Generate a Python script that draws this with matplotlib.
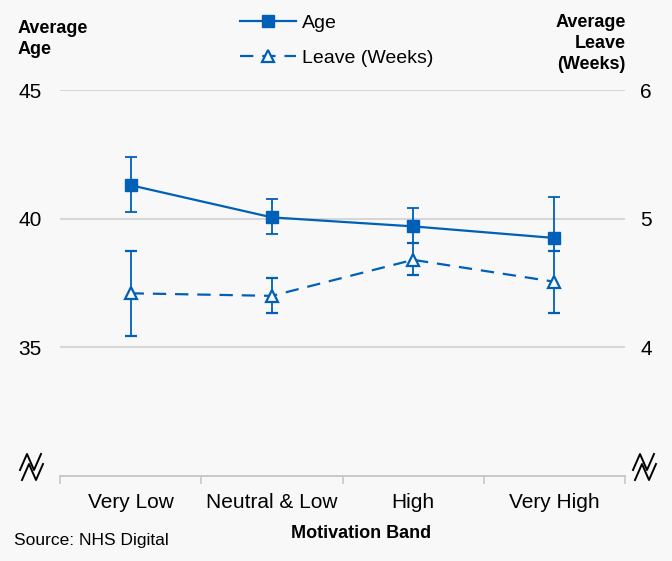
import numpy as np
import matplotlib
matplotlib.use('Agg')
from matplotlib import pyplot as plt
from matplotlib.lines import Line2D

plt.rcParams['font.family'] = ['Liberation Sans', 'DejaVu Sans']

bands = ['Very Low', 'Neutral & Low', 'High', 'Very High']
age = [41.3, 40.05, 39.7, 39.25]
age_lo = [40.25, 39.4, 39.05, 38.75]
age_hi = [42.4, 40.75, 40.4, 40.85]
leave = [4.42, 4.40, 4.68, 4.51]
leave_lo = [4.09, 4.27, 4.56, 4.27]
leave_hi = [4.75, 4.54, 4.81, 4.75]

blue = '#0060B8'
bg = '#f8f8f8'
W, H = 672, 561

fig = plt.figure(figsize=(6.72, 5.61), dpi=100, facecolor=bg)
ax = fig.add_axes([60/W, 1-476/H, 565/W, 386/H], facecolor=bg)
ax2 = ax.twinx()

x = np.arange(len(bands))
age = np.array(age); leave = np.array(leave)
ae = [age - np.array(age_lo), np.array(age_hi) - age]
le = [leave - np.array(leave_lo), np.array(leave_hi) - leave]

dash = (0, (6, 4))
ax.errorbar(x, age, yerr=ae, color=blue, lw=1.6, marker='s', ms=9,
            elinewidth=1.3, capsize=4.5, capthick=1.3, zorder=3)
ax2.errorbar(x, leave, yerr=le, color=blue, lw=1.6, ls=dash, marker='^',
             ms=9, mfc=bg, mew=1.6, elinewidth=1.3, capsize=4.5, capthick=1.3,
             zorder=3)

ax.set_xlim(-0.5, 3.5)
ax.set_ylim(30, 45)
ax2.set_ylim(3, 6)
ax.set_yticks([35, 40, 45])
ax.set_yticklabels(['35', '40', '45'])
ax2.set_yticks([4, 5, 6])
ax2.set_yticklabels(['4', '5', '6'])
ax.grid(axis='y', color='#d0d0d0', lw=1.2)
ax.set_axisbelow(True)

ax.set_xticks([-0.5, 0.5, 1.5, 2.5, 3.5])
ax.set_xticklabels([])
ax.set_xticks(x, minor=True)
ax.set_xticklabels(bands, minor=True, fontsize=15)
ax.tick_params(axis='x', which='major', length=6, color='#c8c8c8', width=1.2)
ax.tick_params(axis='x', which='minor', length=0, pad=12)
ax.tick_params(axis='y', length=0, labelsize=15, pad=13)
ax2.tick_params(axis='y', length=0, labelsize=15, pad=11)

for a in (ax, ax2):
    for s in ('top', 'left', 'right'):
        a.spines[s].set_visible(False)
    a.spines['bottom'].set_color('#c8c8c8')
    a.spines['bottom'].set_linewidth(1.2)

fig.text(18/W, 1-20/H, 'Average\nAge', fontsize=13, fontweight='bold',
         va='top', ha='left', linespacing=1.3)
fig.text(626/W, 1-14/H, 'Average\nLeave\n(Weeks)', fontsize=13, fontweight='bold',
         va='top', ha='right', linespacing=1.32)
fig.text(361/W, 1-534/H, 'Motivation Band', fontsize=13, fontweight='bold',
         ha='center', va='center')
fig.text(14/W, 1-540/H, 'Source: NHS Digital', fontsize=12.5, ha='left', va='center')

handles = [Line2D([], [], color=blue, lw=1.6, marker='s', ms=9),
           Line2D([], [], color=blue, lw=1.6, ls=dash, marker='^', ms=9,
                  mfc=bg, mew=1.6)]
fig.legend(handles, ['Age', 'Leave (Weeks)'], loc='upper left',
           bbox_to_anchor=(222/W, 1+3/H), frameon=False, fontsize=14,
           labelspacing=0.9, handlelength=2.9, handletextpad=0.3)

# axis break symbols
def brk(cx, cy):
    xs = np.array([-11, -4, 3, 10])
    ys = np.array([8, -8, 8, -8])
    for dx, dy in ((-1, -5), (1, 5)):
        fig.add_artist(Line2D((cx + dx + xs) / W, 1 - (cy + dy + ys) / H,
                              transform=fig.transFigure, color='black', lw=1.4))

brk(32, 467)
brk(645, 467)

fig.savefig('out.png', dpi=100, facecolor=bg)
